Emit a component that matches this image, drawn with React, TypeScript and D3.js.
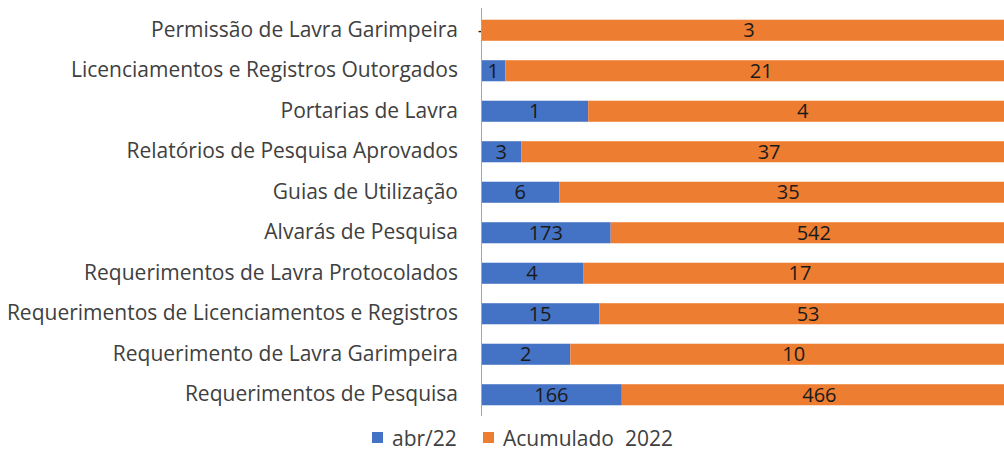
import * as d3 from "d3";
import { useEffect, useRef } from "react";

const categories = [
  "Permissão de Lavra Garimpeira",
  "Licenciamentos e Registros Outorgados",
  "Portarias de Lavra",
  "Relatórios de Pesquisa Aprovados",
  "Guias de Utilização",
  "Alvarás de Pesquisa",
  "Requerimentos de Lavra Protocolados",
  "Requerimentos de Licenciamentos e Registros",
  "Requerimento de Lavra Garimpeira",
  "Requerimentos de Pesquisa",
];
const abr22 = [0, 1, 1, 3, 6, 173, 4, 15, 2, 166];
const acumulado = [3, 21, 4, 37, 35, 542, 17, 53, 10, 466];
const seriesNames = ["abr/22", "Acumulado  2022"];
const colors = ["#4472C4", "#ED7D31"];

export default function App() {
  const ref = useRef<SVGSVGElement | null>(null);

  useEffect(() => {
    if (!ref.current) return;
    const svg = d3.select(ref.current);
    svg.selectAll("*").remove();

    // plot runs a bit past the right edge (cropped in the original)
    const margin = { top: 10, right: -13, bottom: 37, left: 481 };
    const W = 1004, H = 452;
    const font = "'Open Sans', sans-serif";

    const x = d3.scaleLinear().domain([0, 1]).range([margin.left, W - margin.right]);
    const y = d3.scaleBand().domain(categories).range([margin.top, H - margin.bottom]).paddingInner(0.48).paddingOuter(0.24);

    const rows = categories.map((c, i) => {
      const tot = abr22[i] + acumulado[i];
      return { c, vals: [abr22[i], acumulado[i]], parts: [abr22[i] / tot, acumulado[i] / tot] };
    });

    const g = svg.append("g");
    rows.forEach((r) => {
      let start = 0;
      r.parts.forEach((p, k) => {
        const x0 = x(start), x1 = x(start + p);
        g.append("rect")
          .attr("x", x0)
          .attr("y", y(r.c)!)
          .attr("width", x1 - x0)
          .attr("height", y.bandwidth())
          .attr("fill", colors[k]);
        g.append("text")
          .attr("x", (x0 + x1) / 2)
          .attr("y", y(r.c)! + y.bandwidth() / 2)
          .attr("dy", "0.36em")
          .attr("text-anchor", "middle")
          .style("font-family", font)
          .style("font-size", "20px")
          .style("fill", "#1a1a1a")
          .text(r.vals[k] === 0 ? "-" : String(r.vals[k]));
        start += p;
      });
    });

    // axis
    const axis = svg.append("g").attr("transform", `translate(${margin.left},0)`)
      .call(d3.axisLeft(y).tickSize(0).tickPadding(23));
    axis.select(".domain").attr("stroke", "#a6a6a6").attr("d", `M0.5,${margin.top - 2}V${H - margin.bottom + 1}`);
    axis.selectAll("text")
      .style("font-family", font)
      .style("font-size", "21px")
      .style("fill", "#404040");

    // legend
    const leg = svg.append("g");
    const lx = [372, 483];
    seriesNames.forEach((s, k) => {
      leg.append("rect").attr("x", lx[k]).attr("y", 432).attr("width", 11).attr("height", 11).attr("fill", colors[k]);
      leg.append("text")
        .attr("x", lx[k] + 20)
        .attr("y", 438)
        .attr("dy", "0.36em")
        .style("font-family", font)
        .style("font-size", "21px")
        .style("fill", "#404040")
        .style("white-space", "pre")
        .text(s);
    });
  }, []);

  return (
    <svg ref={ref} width={1004} height={452} style={{ position: "absolute", left: 0, top: 0, background: "#fff" }} />
  );
}
